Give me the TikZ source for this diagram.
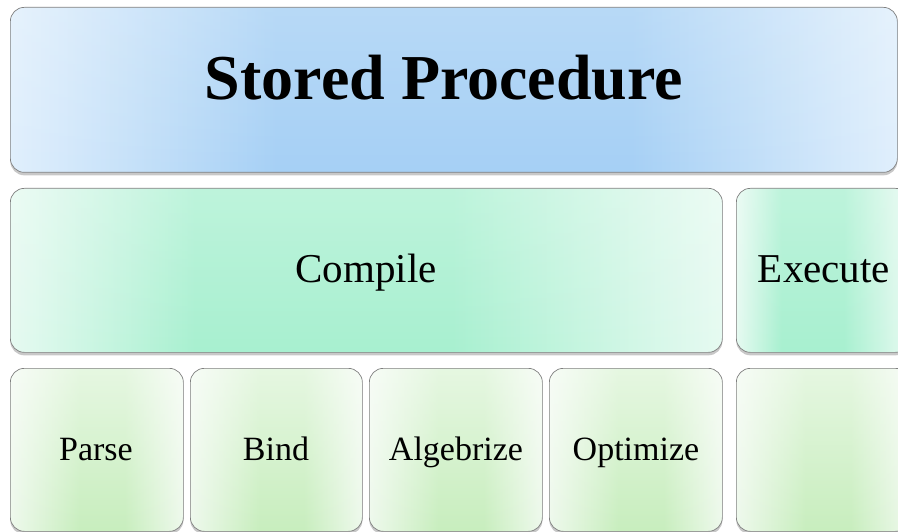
\documentclass[tikz,border=0pt]{standalone}
\usepackage[T1]{fontenc}
\usepackage{fontspec}
\setmainfont{Liberation Serif}
\usetikzlibrary{shadows,fadings}
\IfFileExists{pplr8t.tfm}{%
  \newcommand\palfont{\fontencoding{T1}\fontfamily{ppl}\selectfont}
  \newcommand\midsize{\fontsize{38}{38}\selectfont}
  \newcommand\lowsize{\fontsize{31}{31}\selectfont}
}{%
  \newcommand\palfont{\rmfamily}
  \newcommand\midsize{\fontsize{41}{41}\selectfont}
  \newcommand\lowsize{\fontsize{34}{34}\selectfont}
}
\definecolor{bluelight}{HTML}{E0EFFC}
\definecolor{bluedeep}{HTML}{A6D0F5}
\definecolor{greenlight}{HTML}{E6FAF1}
\definecolor{greendeep}{HTML}{A8F0D0}
\definecolor{limelight}{HTML}{EEF9EC}
\definecolor{limedeep}{HTML}{C8EEBE}
\definecolor{edgegray}{HTML}{808080}
\pgfdeclarehorizontalshading{blueshade}{100bp}{color(0bp)=(bluelight); color(25bp)=(bluelight); color(40bp)=(bluedeep); color(60bp)=(bluedeep); color(75bp)=(bluelight); color(100bp)=(bluelight)}
\pgfdeclarehorizontalshading{greenshade}{100bp}{color(0bp)=(greenlight); color(25bp)=(greenlight); color(38bp)=(greendeep); color(56bp)=(greendeep); color(75bp)=(greenlight); color(100bp)=(greenlight)}
\pgfdeclarehorizontalshading{limeshade}{100bp}{color(0bp)=(limelight); color(25bp)=(limelight); color(45bp)=(limedeep); color(58bp)=(limedeep); color(75bp)=(limelight); color(100bp)=(limelight)}
\tikzfading[name=fadedown, top color=transparent!0, bottom color=transparent!100]
\tikzset{
  box/.style={draw=edgegray, line width=0.7pt, rounded corners=14pt, inner sep=0pt,
    anchor=north west,
    drop shadow={shadow xshift=0pt, shadow yshift=-3pt, opacity=0.3, fill=black!70}},
  whitefade/.style={path picture={\fill[white, path fading=fadedown, opacity=#1]
      (path picture bounding box.south west) rectangle (path picture bounding box.north east);}},
  bluebox/.style={box, shading=blueshade, whitefade=0.2},
  greenbox/.style={box, shading=greenshade, whitefade=0.25},
  limebox/.style={box, shading=limeshade, whitefade=0.55},
  title/.style={anchor=base, font=\bfseries\fontsize{64}{64}\selectfont},
  midtext/.style={anchor=base, font=\palfont\midsize},
  lowtext/.style={anchor=base, font=\palfont\lowsize},
}
\begin{document}
\begin{tikzpicture}[x=1pt,y=-1pt]
\useasboundingbox (0,0) rectangle (898,532);
\fill[white] (0,0) rectangle (898,532);
\node[bluebox, minimum width=887pt, minimum height=165pt] (sp) at (10,7) {};
\node[greenbox, minimum width=712pt, minimum height=164pt] (compile) at (10,188) {};
\node[greenbox, minimum width=173pt, minimum height=164pt] (execute) at (736,188) {};
\node[limebox, minimum width=173pt, minimum height=163pt] (parse) at (10,368) {};
\node[limebox, minimum width=172pt, minimum height=163pt] (bind) at (190,368) {};
\node[limebox, minimum width=173pt, minimum height=163pt] (algebrize) at (369,368) {};
\node[limebox, minimum width=173pt, minimum height=163pt] (optimize) at (549,368) {};
\node[limebox, minimum width=173pt, minimum height=163pt] (blank) at (736,368) {};
\node[title] (tsp) at (444,100) {Stored Procedure};
\node[midtext] (tcompile) at (366,282) {Compile};
\node[midtext] (texecute) at (824,282) {Execute};
\node[lowtext] (tparse) at (96,460) {Parse};
\node[lowtext] (tbind) at (276,460) {Bind};
\node[lowtext] (talgebrize) at (456,460) {Algebrize};
\node[lowtext] (toptimize) at (636,460) {Optimize};
\end{tikzpicture}
\end{document}
